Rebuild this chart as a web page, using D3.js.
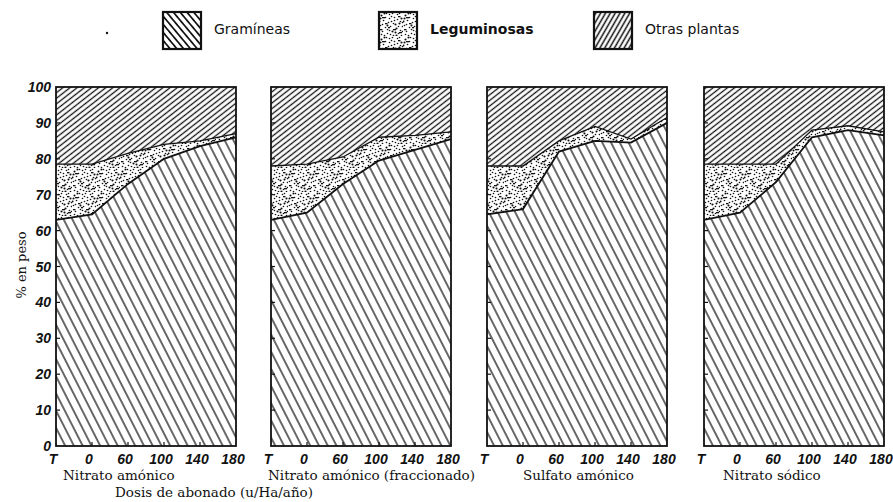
<!DOCTYPE html>
<html>
<head>
<meta charset="utf-8">
<script src="https://cdn.jsdelivr.net/npm/d3@7"></script>
<style>
  body { margin: 0; background: #fff; }
</style>
</head>
<body>
<div id="chart"></div>
<script>
// Categories and values (% en peso)
var doses = ["T", "0", "60", "100", "140", "180"];
var panelNames = ["Nitrato amónico", "Nitrato amónico (fraccionado)", "Sulfato amónico", "Nitrato sódico"];

var gramineas = [
  [63, 64.5, 73, 80, 83.5, 86],
  [63, 65, 73, 79.5, 82.5, 85.5],
  [64.5, 66, 82, 85, 84.5, 90],
  [63, 65, 73.5, 86, 88, 86.5]
];
var leguminosas = [
  [15.5, 14, 8.5, 4, 1.5, 1],
  [15, 13.5, 7.5, 6.5, 4, 2],
  [13.5, 12, 3, 4, 1, 1.5],
  [15.5, 13.5, 5, 2, 1.2, 1]
];
var otras = [
  [21.5, 21.5, 18.5, 16, 15, 13],
  [22, 21.5, 19.5, 14, 13.5, 12.5],
  [22, 22, 15, 11, 14.5, 8.5],
  [21.5, 21.5, 21.5, 12, 10.8, 12.5]
];
var yTicks = [0, 10, 20, 30, 40, 50, 60, 70, 80, 90, 100];
var legendNames = ["Gramíneas", "Leguminosas", "Otras plantas"];

// Layout
var svgWidth = 893;
var svgHeight = 502;
var panelLeft = [56, 271, 487, 704];
var panelWidth = 180;
var plotTop = 87;
var plotBottom = 446;
var nameOffset = [7, -3, 36, 19];
var legendX = [163, 379, 594];

var svg = d3.select("#chart")
  .append("svg")
  .attr("width", svgWidth)
  .attr("height", svgHeight)
  .style("background", "#fff");

var defs = svg.append("defs");

// line hatch helper
function hatch(id, spacing, angle, width) {
  var p = defs.append("pattern")
    .attr("id", id)
    .attr("patternUnits", "userSpaceOnUse")
    .attr("width", spacing).attr("height", 10)
    .attr("patternTransform", `rotate(${angle})`);
  p.append("rect").attr("width", spacing).attr("height", 10).attr("fill", "#fff");
  p.append("line")
    .attr("x1", spacing / 2).attr("x2", spacing / 2).attr("y1", -2).attr("y2", 12)
    .attr("stroke", "#111").attr("stroke-width", width);
}
hatch("pat-gram", 7.8, -27, 1.25);
hatch("pat-otras", 4.4, 52, 1.3);
hatch("leg-gram", 5.2, -40, 1.7);
hatch("leg-otras", 4.2, 30, 1.5);

// stipple tile (fixed texture, not data)
var stipDots = [[2,3],[7,1],[12,4],[18,2],[22,6],[4,8],[9,10],[15,8],[20,11],[1,13],
  [6,15],[11,14],[17,16],[23,14],[3,19],[8,21],[13,19],[19,21],[22,23],[10,6],
  [16,12],[5,23],[14,23],[21,18],[0,9],[13,1],[8,17],[18,7],[5,1],[10,2],[15,5],
  [20,1],[1,6],[12,9],[23,10],[3,12],[8,13],[14,11],[19,14],[10,18],[16,20],
  [2,22],[11,22],[23,19],[17,23],[6,5],[21,9]];
var stipDashes = [[3,5,3],[14,17,3],[19,4,2.5],[6,11,2.5],[20,20,3],[9,15,2],[1,17,2.5]];
var leg = defs.append("pattern")
  .attr("id", "pat-leg")
  .attr("patternUnits", "userSpaceOnUse")
  .attr("width", 24).attr("height", 24);
leg.append("rect").attr("width", 24).attr("height", 24).attr("fill", "#fff");
leg.selectAll("circle").data(stipDots).enter().append("circle")
  .attr("cx", d => d[0] + 0.5).attr("cy", d => d[1] + 0.5)
  .attr("r", (d, i) => i % 4 === 0 ? 1.05 : 0.8)
  .attr("fill", "#111");
leg.selectAll("rect.dash").data(stipDashes).enter().append("rect")
  .attr("class", "dash")
  .attr("x", d => d[0]).attr("y", d => d[1])
  .attr("width", d => d[2]).attr("height", 1.3)
  .attr("fill", "#111");

var fills = ["url(#pat-gram)", "url(#pat-leg)", "url(#pat-otras)"];
var legendFills = ["url(#leg-gram)", "url(#pat-leg)", "url(#leg-otras)"];

// Legend
svg.append("circle").attr("cx", 107).attr("cy", 33).attr("r", 1.2).attr("fill", "#111");
var legendG = svg.append("g").selectAll("g")
  .data(legendNames)
  .enter()
  .append("g")
  .attr("transform", (d, i) => `translate(${legendX[i]}, 12)`);
legendG.append("rect")
  .attr("width", 38).attr("height", 37)
  .attr("fill", (d, i) => legendFills[i])
  .attr("stroke", "#111").attr("stroke-width", 2.2);
legendG.append("text")
  .attr("x", 51).attr("y", 22)
  .attr("font-family", "DejaVu Sans, sans-serif")
  .attr("font-size", "14px")
  .attr("font-weight", (d, i) => i === 1 ? "700" : "400")
  .attr("fill", "#111")
  .text(d => d);

var yScale = d3.scaleLinear().domain([0, 100]).range([plotBottom, plotTop]);

var stack = d3.stack().keys(["g", "l", "o"]);

panelNames.forEach(function (name, p) {
  var rows = doses.map(function (d, i) {
    return { dose: d, g: gramineas[p][i], l: leguminosas[p][i], o: otras[p][i] };
  });
  var series = stack(rows);

  var xScale = d3.scalePoint()
    .domain(doses)
    .range([panelLeft[p], panelLeft[p] + panelWidth]);

  var area = d3.area()
    .x(d => xScale(d.data.dose))
    .y0(d => yScale(d[0]))
    .y1(d => yScale(Math.min(100, d[1])));

  var g = svg.append("g");

  g.selectAll("path.layer")
    .data(series)
    .enter()
    .append("path")
    .attr("class", "layer")
    .attr("d", area)
    .attr("fill", (d, i) => fills[i]);

  // boundary lines
  var line = d3.line()
    .x(d => xScale(d.data.dose))
    .y(d => yScale(d[1]));
  g.append("path")
    .attr("d", line(series[0]))
    .attr("fill", "none").attr("stroke", "#111").attr("stroke-width", 1.8);
  g.append("path")
    .attr("d", line(series[1]))
    .attr("fill", "none").attr("stroke", "#111").attr("stroke-width", 1.3);

  // frame
  g.append("rect")
    .attr("x", panelLeft[p]).attr("y", plotTop)
    .attr("width", panelWidth).attr("height", plotBottom - plotTop)
    .attr("fill", "none").attr("stroke", "#111").attr("stroke-width", 1.8);

  // small inner ticks
  g.selectAll("line.yt")
    .data(yTicks.slice(1, -1))
    .enter().append("line")
    .attr("class", "yt")
    .attr("x1", panelLeft[p]).attr("x2", panelLeft[p] + 4)
    .attr("y1", d => yScale(d)).attr("y2", d => yScale(d))
    .attr("stroke", "#111").attr("stroke-width", 1.2);
  g.selectAll("line.xt")
    .data(doses.slice(1, -1))
    .enter().append("line")
    .attr("class", "xt")
    .attr("x1", d => xScale(d)).attr("x2", d => xScale(d))
    .attr("y1", plotBottom).attr("y2", plotBottom - 4)
    .attr("stroke", "#111").attr("stroke-width", 1.2);

  // x tick labels
  g.selectAll("text.xl")
    .data(doses)
    .enter().append("text")
    .attr("class", "xl")
    .attr("x", d => xScale(d) - 3)
    .attr("y", 464)
    .attr("text-anchor", "middle")
    .attr("font-family", "Liberation Sans, Arial, sans-serif")
    .attr("font-size", "14px")
    .attr("font-weight", "700")
    .attr("font-style", "italic")
    .attr("fill", "#111")
    .text(d => d);

  // panel name
  g.append("text")
    .attr("x", panelLeft[p] + nameOffset[p])
    .attr("y", 480)
    .attr("font-family", "DejaVu Serif, serif")
    .attr("font-size", "13.5px")
    .attr("fill", "#111")
    .text(name);
});

// y axis labels (first panel only)
svg.append("g").selectAll("text")
  .data(yTicks)
  .enter().append("text")
  .attr("x", 51)
  .attr("y", d => yScale(d))
  .attr("dy", "0.36em")
  .attr("text-anchor", "end")
  .attr("font-family", "Liberation Sans, Arial, sans-serif")
  .attr("font-size", "14px")
  .attr("font-weight", "700")
  .attr("font-style", "italic")
  .attr("fill", "#111")
  .text(d => d);

svg.append("text")
  .attr("transform", "translate(26, 265) rotate(-90)")
  .attr("text-anchor", "middle")
  .attr("font-family", "DejaVu Serif, serif")
  .attr("font-size", "13px")
  .attr("fill", "#111")
  .text("% en peso");

svg.append("text")
  .attr("x", 115)
  .attr("y", 497)
  .attr("font-family", "DejaVu Serif, serif")
  .attr("font-size", "13.5px")
  .attr("fill", "#111")
  .text("Dosis de abonado (u/Ha/año)");
</script>
</body>
</html>
